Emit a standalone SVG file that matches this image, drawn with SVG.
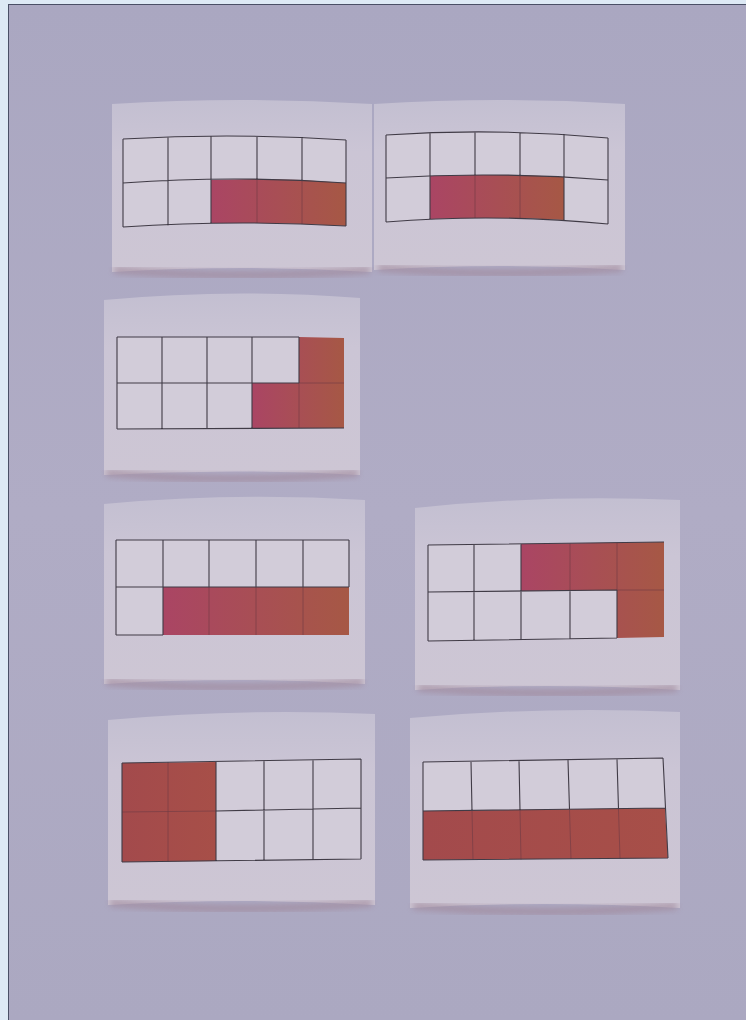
<svg xmlns="http://www.w3.org/2000/svg" width="746" height="1020" viewBox="0 0 746 1020">
  <defs>
    <linearGradient id="bg" x1="0" y1="0" x2="0" y2="1">
      <stop offset="0" stop-color="#aaa7c1"/>
      <stop offset="0.5" stop-color="#b0acc5"/>
      <stop offset="1" stop-color="#aba8c1"/>
    </linearGradient>
    <linearGradient id="card" x1="0" y1="0" x2="0" y2="1">
      <stop offset="0" stop-color="#c3bfd1"/>
      <stop offset="0.3" stop-color="#cbc5d5"/>
      <stop offset="1" stop-color="#cdc6d4"/>
    </linearGradient>
    <linearGradient id="red" x1="0" y1="0" x2="1" y2="0">
      <stop offset="0" stop-color="#aa4564"/>
      <stop offset="1" stop-color="#a65845"/>
    </linearGradient>
    <linearGradient id="red2" x1="0" y1="0" x2="1" y2="0">
      <stop offset="0" stop-color="#a34a4c"/>
      <stop offset="1" stop-color="#a74f48"/>
    </linearGradient>
    <filter id="blur" x="-10%" y="-50%" width="120%" height="200%">
      <feGaussianBlur stdDeviation="3"/>
    </filter>
  </defs>
  <style>
    .card { fill: url(#card); }
    .shadow { fill: none; stroke: #a0899c; stroke-width: 6; filter: url(#blur); opacity: 0.85; }
    .cell { fill: #d2ccd9; }
    .grid { fill: none; stroke: #403b46; stroke-width: 1.1; stroke-linejoin: round; }
    .faint { fill: none; stroke: #6e3a44; stroke-width: 1; opacity: 0.6; }
    .fill { fill: url(#red); }
    .fill2 { fill: url(#red2); }
  </style>

  <rect x="0" y="0" width="746" height="1020" fill="#dde9f5"/>
  <rect x="8" y="4" width="738" height="1016" fill="url(#bg)"/>
  <line x1="8.5" y1="4" x2="8.5" y2="1020" stroke="#4a4f66" stroke-width="1"/>
  <line x1="8" y1="4.5" x2="746" y2="4.5" stroke="#4a4f66" stroke-width="1"/>

  <g id="card1">
    <path class="card" d="M112,104 Q242,96 372,104 L372,272 Q242,264 112,272 Z"/>
    <path class="shadow" d="M114,270 Q242,280 370,270"/>
    <path class="cell" d="M123,139 Q235,132.5 346,140 L346,226 Q235,219.5 123,227 Z"/>
    <path class="fill" d="M211,180 L258,179 L302,180 L346,183 L346,226 L302,224 L258,223 L211,223 Z"/>
    <path class="faint" d="M257,179 L257,223 M302,180 L302,224"/>
    <path class="grid" d="M123,139 Q235,132.5 346,140 M123,183 Q235,175 346,183 M123,227 Q235,219.5 346,226 M123,139 L123,227 M168,137.5 L168,225.5 M211,136.5 L211,224 M257,136 L257,179 M302,137 L302,180 M346,140 L346,226"/>
  </g>

  <g id="card2">
    <path class="card" d="M374,104 Q500,96 625,104 L625,270 Q500,262 374,270 Z"/>
    <path class="shadow" d="M378,268 Q500,278 622,268"/>
    <path class="cell" d="M386,135 Q497,127.5 608,138 L608,224 Q497,213 386,222 Z"/>
    <path class="fill" d="M430,176 L475,175 L520,175 L564,177 L564,220 L520,218 L475,218 L430,219 Z"/>
    <path class="faint" d="M475,175 L475,218 M520,175 L520,218.5"/>
    <path class="grid" d="M386,135 Q497,127.5 608,138 M386,178 Q497,171 608,180 M386,222 Q497,213 608,224 M386,135 L386,222 M430,133 L430,219.5 M475,132 L475,175 M520,132.5 L520,175 M564,134 L564,220.5 M608,138 L608,224"/>
  </g>

  <g id="card3">
    <path class="card" d="M104,300 Q232,288 360,298 L360,475 Q232,468 104,475 Z"/>
    <path class="shadow" d="M106,473 Q232,484 358,473"/>
    <path class="cell" d="M117,337 L344,338 L344,428 L117,429 Z"/>
    <path class="fill" d="M252,383 L299,383 L299,337 L344,338 L344,428 L252,428 Z"/>
    <path class="faint" d="M299,383 L299,428 M299,383 L344,383"/>
    <path class="grid" d="M117,337 L299,337 M117,383 L299,383 M117,429 L344,428 M117,337 L117,429 M162,337 L162,429 M207,337 L207,428.5 M252,337 L252,428 M299,337 L299,383"/>
  </g>

  <g id="card4">
    <path class="card" d="M104,504 Q234,492 365,500 L365,684 Q234,676 104,684 Z"/>
    <path class="shadow" d="M106,682 Q234,692 363,682"/>
    <path class="cell" d="M116,540 L349,540 L349,635 L116,635 Z"/>
    <path class="fill" d="M163,587 L349,587 L349,635 L163,635 Z"/>
    <path class="faint" d="M209,587 L209,635 M256,587 L256,635 M303,587 L303,635"/>
    <path class="grid" d="M116,540 L349,540 M116,587 L349,587 M116,635 L163,635 M116,540 L116,635 M163,540 L163,635 M209,540 L209,587 M256,540 L256,587 M303,540 L303,587 M349,540 L349,587"/>
  </g>

  <g id="card5">
    <path class="card" d="M415,508 Q548,494 680,500 L680,690 Q548,682 415,690 Z"/>
    <path class="shadow" d="M418,688 Q548,698 677,688"/>
    <path class="cell" d="M428,545 L664,542 L664,637 L428,641 Z"/>
    <path class="fill" d="M521,544 L664,542 L664,637 L617,638 L617,590 L521,591 Z"/>
    <path class="faint" d="M570,543.5 L570,590.5 M617,543 L617,590 M617,590 L664,590"/>
    <path class="grid" d="M428,545 L664,542 M428,592 L617,590 M428,641 L617,638 M428,545 L428,641 M474,544.5 L474,640.5 M521,544 L521,640 M570,590.5 L570,639 M617,590 L617,638"/>
  </g>

  <g id="card6">
    <path class="card" d="M108,720 Q242,708 375,714 L375,905 Q242,897 108,905 Z"/>
    <path class="shadow" d="M110,903 Q242,914 372,903"/>
    <path class="cell" d="M122,763 L361,759 L361,859 L122,862 Z"/>
    <path class="fill2" d="M122,763 L216,762 L216,861 L122,862 Z"/>
    <path class="faint" d="M168,762 L168,861.5 M122,812 L216,811"/>
    <path class="grid" d="M122,763 L361,759 M216,811 L361,808 M122,862 L361,859 M122,763 L122,862 M216,762 L216,861 M264,761 L264,860.5 M313,760 L313,860 M361,759 L361,859"/>
  </g>

  <g id="card7">
    <path class="card" d="M410,718 Q545,706 680,712 L680,908 Q545,900 410,908 Z"/>
    <path class="shadow" d="M413,906 Q545,917 677,906"/>
    <path class="cell" d="M423,762 L663,758 L668,858 L423,860 Z"/>
    <path class="fill2" d="M423,811 L665,808 L668,858 L423,860 Z"/>
    <path class="faint" d="M472,810.5 L473,860 M520,810 L521,859.5 M569.5,809.5 L571,859 M618.5,809 L620,858.5"/>
    <path class="grid" d="M423,762 L663,758 M423,811 L665,808 M423,860 L668,858 M423,762 L423,860 M471,761 L472,810.5 M519,760.5 L520,810 M568,760 L569.5,809.5 M617,759 L618.5,809 M663,758 L668,858"/>
  </g>
</svg>
